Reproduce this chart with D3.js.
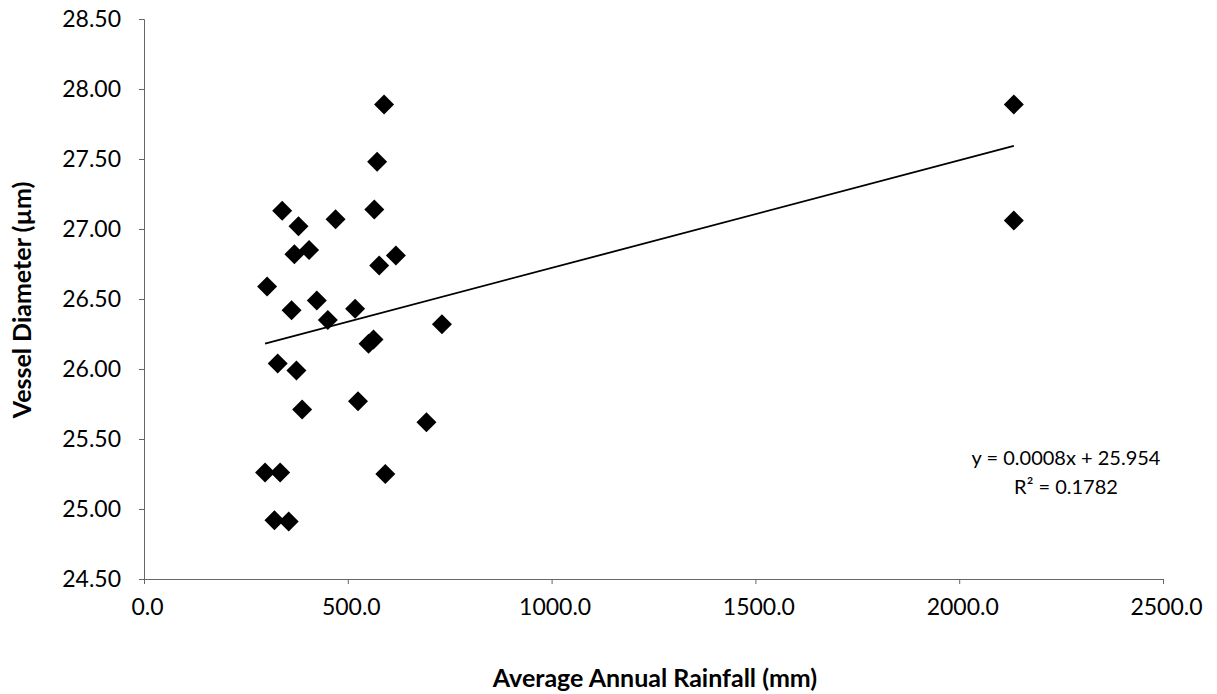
<!DOCTYPE html>
<html><head><meta charset="utf-8">
<script src="https://cdn.jsdelivr.net/npm/d3@7"></script>
<style>
html,body{margin:0;padding:0;background:#fff;}
text{font-family:Lato,"Open Sans",sans-serif;fill:#000;}
</style></head>
<body>
<svg id="chart" width="1217" height="694"></svg>
<script>
// Data: average annual rainfall (mm) vs vessel diameter (µm)
const rainfall = [589, 572, 339, 470, 565, 379, 369, 405, 577, 618, 302, 362, 424, 451, 518, 731, 551, 563, 328, 374, 388, 525, 693, 297, 334, 592, 320, 355, 2134, 2134];
const diameter = [27.89, 27.48, 27.13, 27.07, 27.14, 27.02, 26.82, 26.85, 26.74, 26.81, 26.59, 26.42, 26.49, 26.35, 26.43, 26.32, 26.18, 26.21, 26.04, 25.99, 25.71, 25.77, 25.62, 25.26, 25.26, 25.25, 24.92, 24.91, 27.89, 27.06];
const xTicks = [0, 500, 1000, 1500, 2000, 2500];
const yTicks = [24.5, 25, 25.5, 26, 26.5, 27, 27.5, 28, 28.5];
const trendSlope = 0.000768;
const trendIntercept = 25.954;
const equationLines = ["y = 0.0008x + 25.954", "R² = 0.1782"];

(function () {
const svg = d3.select("#chart");
const mLeft = 144, mRight = 1163, mTop = 19, mBottom = 579;
const x = d3.scaleLinear().domain([0, 2500]).range([mLeft, mRight]);
const y = d3.scaleLinear().domain([24.5, 28.5]).range([mBottom, mTop]);

const xAxis = d3.axisBottom(x).tickValues(xTicks).tickFormat(d3.format(".1f")).tickSize(5).tickPadding(15);
const yAxis = d3.axisLeft(y).tickValues(yTicks).tickFormat(d3.format(".2f")).tickSize(5).tickPadding(18);

const gx = svg.append("g").attr("transform", `translate(0,${mBottom})`).call(xAxis);
const gy = svg.append("g").attr("transform", `translate(${mLeft},0)`).call(yAxis);
[gx, gy].forEach(g => {
  g.select(".domain").attr("stroke", "#666").attr("stroke-width", 1);
  g.selectAll(".tick line").attr("stroke", "#666");
  g.selectAll(".tick text").style("font-size", "23px").attr("fill", "#000");
});
gx.selectAll(".tick text").attr("dx", 3);

const xMin = d3.min(rainfall), xMax = d3.max(rainfall);
svg.append("line")
  .attr("x1", x(xMin)).attr("y1", y(trendIntercept + trendSlope * xMin))
  .attr("x2", x(xMax)).attr("y2", y(trendIntercept + trendSlope * xMax))
  .attr("stroke", "#000").attr("stroke-width", 1.8);

svg.append("g").selectAll("path")
  .data(rainfall.map((r, i) => [r, diameter[i]]))
  .join("path")
  .attr("d", d3.symbol().type(d3.symbolSquare).size(200))
  .attr("transform", d => `translate(${x(d[0])},${y(d[1])}) rotate(45)`)
  .attr("fill", "#000");

svg.append("g").selectAll("text").data(equationLines).join("text")
  .attr("x", 1066).attr("y", (d, i) => 465 + i * 29)
  .attr("text-anchor", "middle")
  .style("font-size", "20px")
  .text(d => d);

svg.append("text")
  .attr("x", 655).attr("y", 687)
  .attr("text-anchor", "middle")
  .style("font-size", "25px").style("font-weight", "bold")
  .text("Average Annual Rainfall (mm)");
svg.append("text")
  .attr("transform", "translate(31,300) rotate(-90)")
  .attr("text-anchor", "middle")
  .style("font-size", "25px").style("font-weight", "bold")
  .text("Vessel Diameter (µm)");
})();
</script>
</body></html>
